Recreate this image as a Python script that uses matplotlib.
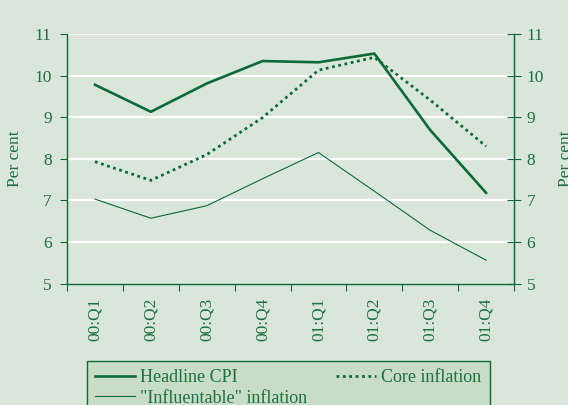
import matplotlib.pyplot as plt
import numpy as np

# Quarterly inflation measures, per cent
quarters = ['00:Q1', '00:Q2', '00:Q3', '00:Q4', '01:Q1', '01:Q2', '01:Q3', '01:Q4']
headline = [9.78, 9.13, 9.81, 10.35, 10.32, 10.53, 8.69, 7.18]
core = [7.93, 7.48, 8.10, 8.99, 10.13, 10.44, 9.41, 8.30]
influentable = [7.03, 6.57, 6.87, 7.52, 8.15, 7.22, 6.28, 5.56]

green = '#0b6a36'
text_green = '#1d7040'
bg = '#dbe6db'

plt.rcParams['font.family'] = ['Liberation Serif', 'DejaVu Serif']

fig = plt.figure(figsize=(5.68, 4.05), dpi=100, facecolor=bg)
ax = fig.add_axes([0.118, 0.300, 0.787, 0.616], facecolor=bg)

x = np.arange(len(quarters)) + 0.5
ax.plot(x, headline, color=green, lw=1.9, label='Headline CPI')
ax.plot(x, influentable, color=green, lw=0.8, label='"Influentable" inflation')
ax.plot(x, core, color=green, lw=2.0, linestyle=(0, (1, 1.3)), label='Core inflation')

ax.set_xlim(0, len(quarters))
ax.set_ylim(5, 11)
ax.set_yticks(range(5, 12))
for v in range(6, 12):
    ax.axhline(v, color='white', lw=1.6, zorder=0)

ax.set_xticks(range(len(quarters) + 1))
ax.set_xticklabels([])
ax.set_xticks(x, minor=True)
ax.set_xticklabels(quarters, minor=True, rotation=90, fontsize=12.5, color=text_green)
ax.tick_params(axis='x', which='minor', length=0, pad=10)
ax.tick_params(axis='x', which='major', length=5, color=green, direction='out')
ax.tick_params(axis='y', length=5, color=green, direction='out', labelsize=12.5,
               labelcolor=text_green, pad=6)

ax.spines['top'].set_visible(False)
for s in ['left', 'bottom', 'right']:
    ax.spines[s].set_color(green)
    ax.spines[s].set_linewidth(1.0)

ax.set_ylabel('Per cent', fontsize=12.5, color=text_green, labelpad=8)

ax2 = ax.twinx()
ax2.set_ylim(5, 11)
ax2.set_yticks(range(5, 12))
ax2.tick_params(axis='y', length=10, color=green, direction='inout', labelsize=12.5,
                labelcolor=text_green, pad=4)
for s in ['top', 'left', 'bottom']:
    ax2.spines[s].set_visible(False)
ax2.spines['right'].set_color(green)
ax2.set_ylabel('Per cent', fontsize=12.5, color=text_green, rotation=90, labelpad=10)

leg = ax.legend(loc='upper left', bbox_to_anchor=(0.153, 0.109),
                bbox_transform=fig.transFigure, ncol=2,
                fontsize=13, frameon=True, fancybox=False, borderaxespad=0,
                handlelength=2.2, handletextpad=0.3, labelspacing=0.2,
                borderpad=0.45, columnspacing=1.6)
leg.get_frame().set_facecolor('#c8dcc8')
leg.get_frame().set_edgecolor(green)
leg.get_frame().set_alpha(1)
leg.get_frame().set_linewidth(1.0)
for t in leg.get_texts():
    t.set_color(text_green)

fig.savefig('out.png', dpi=100, facecolor=bg)
